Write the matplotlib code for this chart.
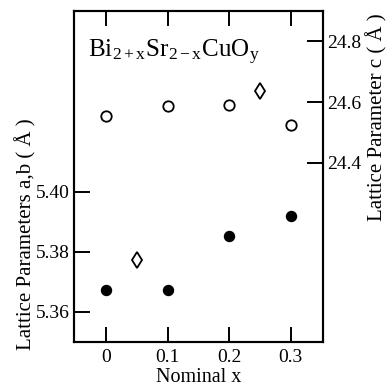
import matplotlib
matplotlib.use("Agg")
import matplotlib.pyplot as plt

plt.rcParams["font.family"] = ["Liberation Serif", "DejaVu Serif"]
plt.rcParams["mathtext.fontset"] = "stix"

# a,b lattice parameters (filled circles, left axis)
x_ab = [0.0, 0.1, 0.2, 0.3]
ab_vals = [5.3673, 5.3673, 5.3851, 5.3918]

# c lattice parameter (open circles, right axis)
x_c = [0.0, 0.1, 0.2, 0.3]
c_vals = [24.554, 24.587, 24.590, 24.526]

# extra open diamond points
x_dia_ab = [0.05]
dia_ab = [5.3771]
x_dia_c = [0.25]
dia_c = [24.637]

x_ticks = [0, 0.1, 0.2, 0.3]
x_ticklabels = ["0", "0.1", "0.2", "0.3"]
ab_ticks = [5.36, 5.38, 5.40]
c_ticks = [24.4, 24.6, 24.8]

fig = plt.figure(figsize=(3.89, 3.86), dpi=100)
ax = fig.add_axes([0.190, 0.114, 0.640, 0.8575])
ax2 = ax.twinx()

ax.plot(x_ab, ab_vals, "o", color="black", markersize=7.2, linestyle="none")
ax.plot(x_dia_ab, dia_ab, "d", markerfacecolor="white", markeredgecolor="black",
        markeredgewidth=1.3, markersize=8.5, linestyle="none")
ax2.plot(x_c, c_vals, "o", markerfacecolor="white", markeredgecolor="black",
         markeredgewidth=1.3, markersize=7.5, linestyle="none")
ax2.plot(x_dia_c, dia_c, "d", markerfacecolor="white", markeredgecolor="black",
         markeredgewidth=1.3, markersize=8.5, linestyle="none")

ax.set_xlim(-0.052, 0.352)
ax.set_ylim(5.35, 5.460)
ax2.set_ylim(23.81, 24.90)

ax.set_xticks(x_ticks)
ax.set_xticklabels(x_ticklabels)
ax.set_yticks(ab_ticks)
ax.set_yticklabels(["%.2f" % v for v in ab_ticks])
ax2.set_yticks(c_ticks)
ax2.set_yticklabels(["%.1f" % v for v in c_ticks])

ax.tick_params(axis="x", direction="in", length=11, width=1.4, top=True,
               labelsize=14, pad=5)
ax.tick_params(axis="y", direction="in", length=11.5, width=1.4,
               labelsize=14, pad=3)
ax2.tick_params(axis="y", direction="in", length=11.5, width=1.4,
                labelsize=14, pad=3)

for a in (ax, ax2):
    for s in a.spines.values():
        s.set_linewidth(1.5)

ax.set_xlabel("Nominal x", fontsize=14.5, labelpad=1.5)
ax.set_ylabel("Lattice Parameters a,b ( Å )", fontsize=15)
ax.yaxis.set_label_coords(-0.15, 0.326)
ax2.set_ylabel("Lattice Parameter c ( Å )", fontsize=15)
ax2.yaxis.set_label_coords(1.175, 0.68)

ax.text(0.055, 0.877, r"Bi$_{\mathregular{2+x}}$Sr$_{\mathregular{2-x}}$CuO$_{\mathregular{y}}$",
        transform=ax.transAxes, fontsize=18, ha="left", va="center")

fig.savefig("out.png", dpi=100)
plt.close(fig)
